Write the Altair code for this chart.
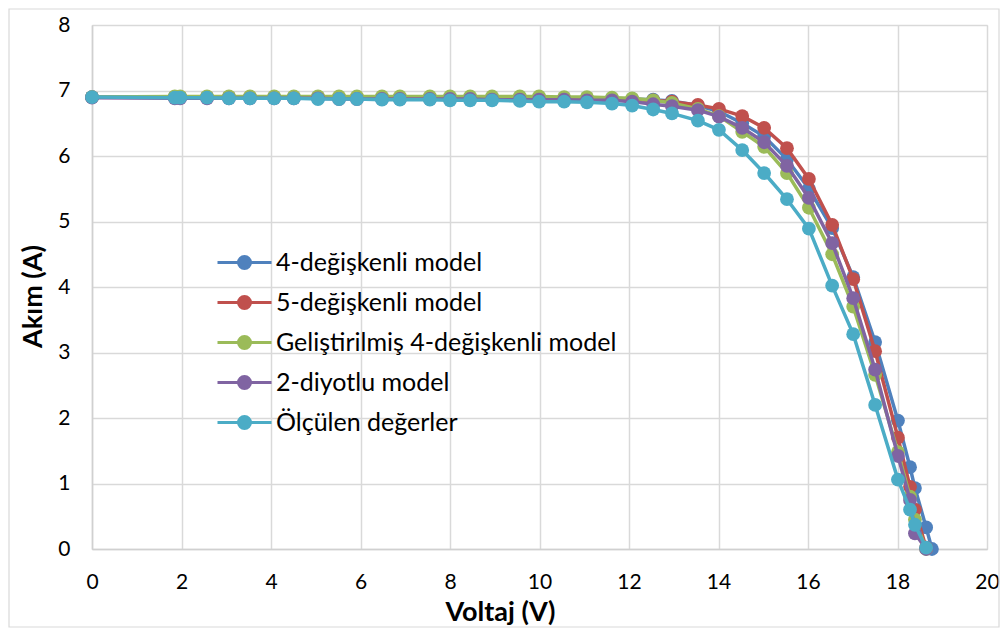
import altair as alt
import pandas as pd

# ---- data ----
voltage = [0, 1.85, 1.97, 2.57, 3.06, 3.53, 4.07, 4.51, 5.05, 5.52, 5.92, 6.48, 6.88,
           7.55, 8.0, 8.45, 8.94, 9.56, 9.99, 10.55, 11.06, 11.62, 12.07, 12.54, 12.96,
           13.54, 14.01, 14.53, 15.02, 15.53, 16.02, 16.54, 17.01, 17.5, 18.01, 18.28,
           18.39, 18.64]

i_4param = [6.90, 6.90, 6.90, 6.90, 6.90, 6.90, 6.90, 6.90, 6.90, 6.89, 6.89, 6.89, 6.89,
            6.89, 6.89, 6.89, 6.89, 6.89, 6.89, 6.88, 6.88, 6.88,
            6.87, 6.86, 6.84, 6.77, 6.68, 6.50, 6.30, 5.95, 5.50, 4.90, 4.15, 3.16,
            1.96, 1.25, 0.93, 0.33]
voc_4param = [18.77]
i_voc_4param = [0.0]

i_5param = [6.90, 6.90, 6.90, 6.90, 6.90, 6.90, 6.89, 6.89, 6.89, 6.89, 6.89, 6.89, 6.89,
            6.89, 6.88, 6.88, 6.88, 6.88, 6.88, 6.88, 6.88, 6.87,
            6.86, 6.85, 6.83, 6.78, 6.72, 6.61, 6.43, 6.12, 5.65, 4.95, 4.12, 3.02,
            1.70, 0.95, 0.60, 0.02]

i_improved = [6.90, 6.91, 6.91, 6.91, 6.91, 6.91, 6.91, 6.91, 6.91, 6.91, 6.91, 6.91, 6.91,
              6.91, 6.91, 6.91, 6.91, 6.91, 6.91, 6.90, 6.90, 6.89,
              6.88, 6.85, 6.81, 6.72, 6.61, 6.37, 6.14, 5.74, 5.21, 4.50, 3.70, 2.66,
              1.48, 0.80, 0.45, 0.00]

i_2diode = [6.89, 6.88, 6.88, 6.88, 6.88, 6.88, 6.88, 6.88, 6.88, 6.87, 6.87, 6.87, 6.87,
            6.87, 6.87, 6.87, 6.86, 6.86, 6.86, 6.86, 6.85, 6.85,
            6.83, 6.79, 6.76, 6.70, 6.60, 6.43, 6.21, 5.85, 5.36, 4.67, 3.83, 2.74,
            1.42, 0.75, 0.24, 0.00]

i_measured = [6.90, 6.89, 6.89, 6.89, 6.88, 6.88, 6.88, 6.88, 6.87, 6.87, 6.87, 6.86, 6.86,
              6.86, 6.85, 6.85, 6.85, 6.84, 6.83, 6.83, 6.82, 6.80,
              6.77, 6.71, 6.65, 6.54, 6.40, 6.09, 5.74, 5.34, 4.89, 4.02, 3.28, 2.20,
              1.06, 0.60, 0.37, 0.02]

series_names = ["4-değişkenli model", "5-değişkenli model",
                "Geliştirilmiş 4-değişkenli model", "2-diyotlu model",
                "Ölçülen değerler"]
series_colors = ["#4F81BD", "#C0504D", "#9BBB59", "#8064A2", "#4BACC6"]
x_ticks = [0, 2, 4, 6, 8, 10, 12, 14, 16, 18, 20]
y_ticks = [0, 1, 2, 3, 4, 5, 6, 7, 8]

series_x = [voltage + voc_4param, voltage, voltage, voltage, voltage]
series_y = [i_4param + i_voc_4param, i_5param, i_improved, i_2diode, i_measured]

rows = []
for order, (name, xs, ys) in enumerate(zip(series_names, series_x, series_y)):
    for k, (v, c) in enumerate(zip(xs, ys)):
        rows.append({"seri": name, "V": v, "I": c, "ord": order, "k": k})
df = pd.DataFrame(rows)

FONT = "Lato"

color = alt.Color(
    "seri:N",
    scale=alt.Scale(domain=series_names, range=series_colors),
    sort=series_names,
    legend=alt.Legend(
        title=None,
        orient="none",
        legendX=140,
        legendY=225,
        padding=0,
        symbolType=("M-2.7,0L2.7,0"
                    "M0.15,0A0.15,0.15,0,1,1,-0.15,0A0.15,0.15,0,1,1,0.15,0"
                    "M0.4,0A0.4,0.4,0,1,1,-0.4,0A0.4,0.4,0,1,1,0.4,0"
                    "M0.6,0A0.6,0.6,0,1,1,-0.6,0A0.6,0.6,0,1,1,0.6,0"),
        symbolSize=400,
        symbolStrokeWidth=3,
        symbolOffset=0,
        labelOffset=19,
        labelFont=FONT,
        labelFontSize=25,
        labelColor="#000000",
        rowPadding=14,
        labelLimit=600,
    ),
)

x_enc = alt.X(
    "V:Q",
    scale=alt.Scale(domain=[0, 20], nice=False, zero=False),
    axis=alt.Axis(
        values=x_ticks, title="Voltaj (V)", grid=True, ticks=False, tickSize=0,
        labelPadding=22, labelFont=FONT, labelFontSize=21, labelColor="#000000",
        labelFlush=False,
        titleFont=FONT, titleFontSize=27, titleFontWeight="bold", titleColor="#000000",
        titleX=408, titleY=63, titleBaseline="middle", titleAlign="center",
        domainColor="#d0d0d0", domainWidth=1.5, gridColor="#d9d9d9", gridWidth=1.5,
    ),
)
y_enc = alt.Y(
    "I:Q",
    scale=alt.Scale(domain=[0, 8], nice=False, zero=True),
    axis=alt.Axis(
        values=y_ticks, title="Akım (A)", grid=True, ticks=False, tickSize=0,
        labelPadding=22, labelFont=FONT, labelFontSize=21, labelColor="#000000",
        labelFlush=False,
        titleFont=FONT, titleFontSize=27, titleFontWeight="bold", titleColor="#000000",
        titleX=-59, titleY=271, titleBaseline="middle", titleAlign="center",
        titleAngle=270,
        domainColor="#d0d0d0", domainWidth=1.5, gridColor="#d9d9d9", gridWidth=1.5,
    ),
)

layers = []
for name in series_names:
    base = alt.Chart(df).transform_filter(alt.datum.seri == name)
    line = base.mark_line(strokeWidth=3.5).encode(
        x=x_enc, y=y_enc, color=color, order=alt.Order("k:Q"))
    pts = base.mark_circle(size=190, opacity=1).encode(
        x=x_enc, y=y_enc, color=color)
    layers += [line, pts]

border = alt.Chart(alt.Data(values=[{"a": 1}])).mark_rect(
    fill="transparent", stroke="#d9d9d9", strokeWidth=1.2
).encode(
    x=alt.value(-83), x2=alt.value(907), y=alt.value(-16), y2=alt.value(602)
)

chart = alt.layer(border, *layers).properties(
    width=895,
    height=524,
    autosize=alt.AutoSizeParams(type="none"),
    padding={"left": 84, "top": 17, "right": 13, "bottom": 79},
).configure_view(stroke=None).configure(background="white")

chart.save("out.html", embed_options={"renderer": "svg", "actions": False})
